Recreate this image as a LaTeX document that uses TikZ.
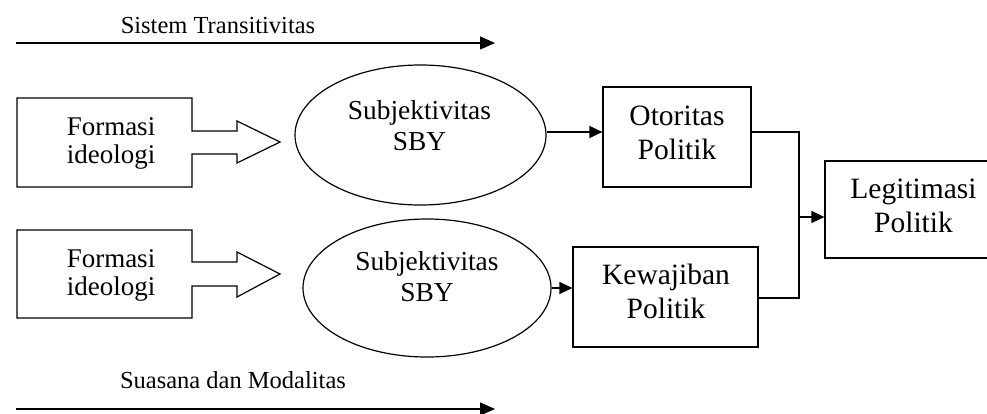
\documentclass[tikz,border=0pt]{standalone}
\usepackage{fontspec}
\setmainfont{Liberation Serif}
\usetikzlibrary{arrows.meta,shapes.geometric,calc}
\tikzset{
  ln/.style={line width=1.2pt, black},
  arr/.style={ln, -{Triangle[length=13pt,width=12pt]}},
  bigarr/.style={ln, -{Triangle[length=15pt,width=13pt]}},
  boxn/.style={draw, ln, rectangle, inner sep=0pt},
  ell/.style={draw, ln, ellipse, inner sep=0pt},
  txtA/.style={align=center, inner sep=0pt, font=\fontsize{27}{28}\selectfont},
  txtS/.style={align=center, inner sep=0pt, font=\fontsize{27.4}{31}\selectfont},
  txtB/.style={align=center, inner sep=0pt, font=\fontsize{29.5}{34}\selectfont},
  lab/.style={inner sep=0pt, anchor=base, font=\fontsize{24.5}{28}\selectfont}
}
\begin{document}
\begin{tikzpicture}[x=1pt,y=-1pt]
\useasboundingbox (0,0) rectangle (987,413);
\clip (0,0) rectangle (987,413);

% top and bottom arrows
\coordinate (t1) at (16,43);
\coordinate (t2) at (495,43);
\draw[bigarr] (t1) -- (t2);
\node[lab] (tlab) at (218,33) {Sistem Transitivitas};

\coordinate (b1) at (16,409);
\coordinate (b2) at (495,409);
\draw[bigarr] (b1) -- (b2);
\node[lab] (blab) at (233,388) {Suasana dan Modalitas};

% callout boxes
\draw[ln, line join=miter] (17,98) -- (192,98) -- (192,131) -- (237,131) -- (237,121) -- (280,142)
  -- (237,163) -- (237,154) -- (192,154) -- (192,187) -- (17,187) -- cycle;
\node[txtA] (f1) at (111,143) {Formasi\\ideologi};

\draw[ln, line join=miter] (17,230) -- (192,230) -- (192,262) -- (237,262) -- (237,252) -- (280,274)
  -- (237,297) -- (237,286) -- (192,286) -- (192,318) -- (17,318) -- cycle;
\node[txtA] (f2) at (111,275) {Formasi\\ideologi};

% ellipses
\node[ell, minimum width=251pt, minimum height=140pt] (e1) at (420.5,135) {};
\node[txtS] (e1t) at (419.5,126) {Subjektivitas\\SBY};
\node[ell, minimum width=248pt, minimum height=138pt] (e2) at (427,288) {};
\node[txtS] (e2t) at (427,277) {Subjektivitas\\SBY};

% boxes
\node[boxn, minimum width=148pt, minimum height=100pt] (oto) at (677,137) {};
\node[txtB] (otot) at (677,132.5) {Otoritas\\Politik};
\node[boxn, minimum width=185pt, minimum height=100pt] (kew) at (665.5,297) {};
\node[txtB] (kewt) at (666,291.5) {Kewajiban\\Politik};
\node[boxn, minimum width=175pt, minimum height=97pt] (leg) at (912.5,209.5) {};
\node[txtB] (legt) at (913.5,206) {Legitimasi\\Politik};

% connectors
\draw[arr] ($(e1.east)+(0,-3)$) -- ($(e1.east -| oto.west)+(0,-3)$);
\draw[arr] (e2.east) -- (e2.east -| kew.west);
\coordinate (jx) at (799,217);
\draw[ln] ($(kew.east)+(0,1)$) -| (jx) |- ($(oto.east)+(0,-5)$);
\draw[arr] (jx) -- (jx -| leg.west);
\end{tikzpicture}
\end{document}
